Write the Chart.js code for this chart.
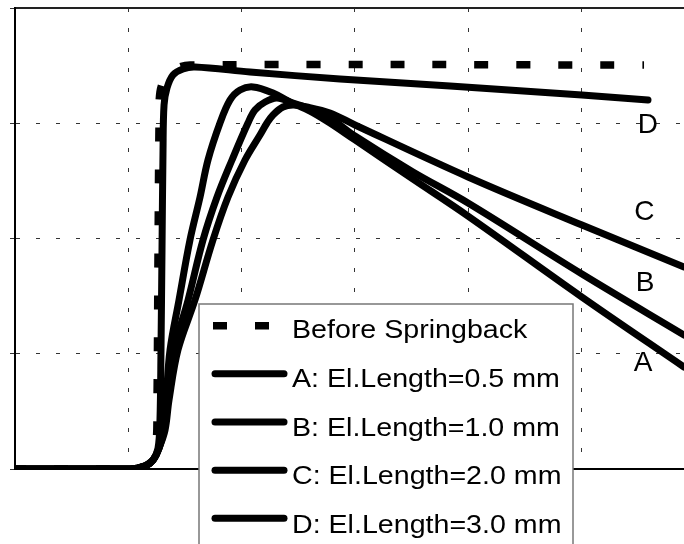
<!DOCTYPE html>
<html>
<head>
<meta charset="utf-8">
<script src="https://cdn.jsdelivr.net/npm/chart.js@4/dist/chart.umd.min.js"></script>
<style>
    body { margin: 0; background: #fff; }
    canvas { display: block; }
</style>
</head>
<body>
<canvas id="graficoRetorno" width="684" height="544"></canvas>
<script>
// curvas (x e y em divisoes da grade)
const antesX = [0, 1.015, 1.148, 1.210, 1.245, 1.254, 1.263, 1.272, 1.280, 1.325, 1.413, 1.545, 5.554];
const antesY = [0, 0, 0.026, 0.078, 0.208, 0.599, 1.900, 3.028, 3.271, 3.393, 3.471, 3.505, 3.505];

const curvaAX = [0, 1.015, 1.148, 1.219, 1.272, 1.307, 1.333, 1.369, 1.448, 1.545, 1.634, 1.704, 1.810, 1.898, 1.987, 2.102, 2.278, 2.428, 2.605, 2.781, 3.002, 3.514, 4.0, 5.006, 5.907];
const curvaAY = [0, 0, 0.026, 0.078, 0.182, 0.338, 0.599, 1.033, 1.466, 1.987, 2.360, 2.681, 3.002, 3.201, 3.289, 3.315, 3.262, 3.184, 3.106, 3.002, 2.855, 2.516, 2.195, 1.492, 0.885];

const curvaBX = [0, 1.015, 1.148, 1.219, 1.272, 1.316, 1.345, 1.404, 1.528, 1.660, 1.784, 1.916, 2.057, 2.119, 2.208, 2.313, 2.455, 2.605, 2.781, 3.002, 3.514, 4.0, 5.006, 5.907];
const curvaBY = [0, 0, 0.026, 0.078, 0.182, 0.338, 0.599, 1.033, 1.466, 1.987, 2.360, 2.681, 3.002, 3.115, 3.184, 3.219, 3.175, 3.124, 3.046, 2.889, 2.577, 2.308, 1.692, 1.163];

const curvaCX = [0, 1.015, 1.148, 1.219, 1.272, 1.325, 1.360, 1.439, 1.589, 1.748, 1.881, 2.031, 2.163, 2.225, 2.278, 2.366, 2.455, 2.578, 2.781, 3.002, 4.0, 5.006, 5.907];
const curvaCY = [0, 0, 0.026, 0.078, 0.182, 0.338, 0.599, 1.033, 1.466, 1.987, 2.360, 2.681, 2.898, 3.002, 3.072, 3.141, 3.158, 3.141, 3.089, 2.985, 2.534, 2.117, 1.753];

const curvaDX = [0, 1.015, 1.148, 1.219, 1.263, 1.280, 1.289, 1.298, 1.307, 1.316, 1.342, 1.395, 1.483, 1.589, 2.075, 2.870, 3.841, 5.006, 5.589];
const curvaDY = [0, 0, 0.026, 0.078, 0.182, 0.425, 1.033, 1.900, 2.768, 3.158, 3.306, 3.419, 3.471, 3.488, 3.445, 3.384, 3.323, 3.245, 3.201];

const nomesSeries = ['Before Springback', 'A: El.Length=0.5 mm', 'B: El.Length=1.0 mm', 'C: El.Length=2.0 mm', 'D: El.Length=3.0 mm'];

const rotulosTexto = ['A', 'B', 'C', 'D'];
const rotulosX = [5.545, 5.563, 5.558, 5.589];
const rotulosY = [0.920, 1.614, 2.230, 2.980];

function montarPontos(xs, ys) {
    const pontos = [];
    for (let i = 0; i < xs.length; i++) {
        pontos.push({ x: xs[i], y: ys[i] });
    }
    return pontos;
}

function serieSolida(label, xs, ys) {
    return {
        label: label,
        data: montarPontos(xs, ys),
        borderColor: '#000',
        borderWidth: 7,
        borderCapStyle: 'round',
        borderJoinStyle: 'round',
        pointRadius: 0,
        tension: 0.35,
        order: 0
    };
}

const rotulosCurvas = {
    id: 'rotulosCurvas',
    afterDatasetsDraw(chart) {
        const ctx = chart.ctx;
        const sx = chart.scales.x;
        const sy = chart.scales.y;
        ctx.save();
        ctx.fillStyle = '#000';
        ctx.font = '28px "Liberation Sans", Arial, sans-serif';
        ctx.textAlign = 'center';
        ctx.textBaseline = 'middle';
        for (let i = 0; i < rotulosTexto.length; i++) {
            ctx.fillText(rotulosTexto[i], sx.getPixelForValue(rotulosX[i]), sy.getPixelForValue(rotulosY[i]));
        }
        ctx.restore();
    }
};

// legenda desenhada dentro da area do grafico
const legendaInterna = {
    id: 'legendaInterna',
    afterDraw(chart) {
        const ctx = chart.ctx;
        ctx.save();
        ctx.fillStyle = '#fff';
        ctx.fillRect(199, 304, 374, 260);
        ctx.strokeStyle = '#777';
        ctx.lineWidth = 1.5;
        ctx.strokeRect(199, 304, 374, 260);

        chart.data.datasets.forEach((ds, i) => {
            const yLinha = 325.7 + i * 48.15;
            const yTexto = 338.3 + i * 48.7;
            ctx.beginPath();
            ctx.strokeStyle = ds.borderColor;
            ctx.lineWidth = ds.borderWidth;
            if (ds.borderDash) {
                ctx.setLineDash(ds.borderDash);
                ctx.lineCap = 'butt';
                ctx.moveTo(213, yLinha);
                ctx.lineTo(270, yLinha);
            } else {
                ctx.setLineDash([]);
                ctx.lineCap = 'round';
                ctx.moveTo(215, yLinha);
                ctx.lineTo(284, yLinha);
            }
            ctx.stroke();
            ctx.setLineDash([]);

            ctx.save();
            ctx.translate(292, yTexto);
            ctx.scale(1.1, 1);
            ctx.fillStyle = '#000';
            ctx.font = '26px "Liberation Sans", Arial, sans-serif';
            ctx.textBaseline = 'alphabetic';
            ctx.fillText(ds.label, 0, 0);
            ctx.restore();
        });
        ctx.restore();
    }
};

const config = {
    type: 'line',
    data: {
        datasets: [
            {
                label: nomesSeries[0],
                data: montarPontos(antesX, antesY),
                borderColor: '#000',
                borderWidth: 7.5,
                borderDash: [14, 28],
                borderDashOffset: 3,
                borderCapStyle: 'butt',
                pointRadius: 0,
                tension: 0.35,
                order: 1
            },
            serieSolida(nomesSeries[1], curvaAX, curvaAY),
            serieSolida(nomesSeries[2], curvaBX, curvaBY),
            serieSolida(nomesSeries[3], curvaCX, curvaCY),
            serieSolida(nomesSeries[4], curvaDX, curvaDY)
        ]
    },
    options: {
        responsive: false,
        animation: false,
        layout: {
            padding: 0
        },
        plugins: {
            legend: { display: false },
            tooltip: { enabled: false }
        },
        scales: {
            x: {
                type: 'linear',
                position: 'bottom',
                min: 0,
                max: 5.907,
                ticks: { display: false, stepSize: 1, includeBounds: false },
                grid: { color: '#333', lineWidth: 1, drawTicks: false },
                border: { display: true, color: '#000', width: 2, dash: [4, 16] },
                afterFit: (scale) => { scale.height = 75; }
            },
            x2: {
                type: 'linear',
                position: 'top',
                display: true,
                min: 0,
                max: 1,
                ticks: { display: false },
                grid: { display: false },
                border: { display: true, color: '#222', width: 2 },
                afterFit: (scale) => { scale.height = 8; }
            },
            y: {
                type: 'linear',
                min: 0,
                max: 4,
                ticks: { display: false, stepSize: 1 },
                grid: { color: '#333', lineWidth: 1, drawTicks: true, tickLength: 5, tickColor: '#333' },
                border: { display: true, color: '#000', width: 2, dash: [4, 16] },
                afterFit: (scale) => { scale.width = 15; }
            }
        }
    },
    plugins: [rotulosCurvas, legendaInterna]
};

const meuGrafico = new Chart(document.getElementById('graficoRetorno'), config);
</script>
</body>
</html>
